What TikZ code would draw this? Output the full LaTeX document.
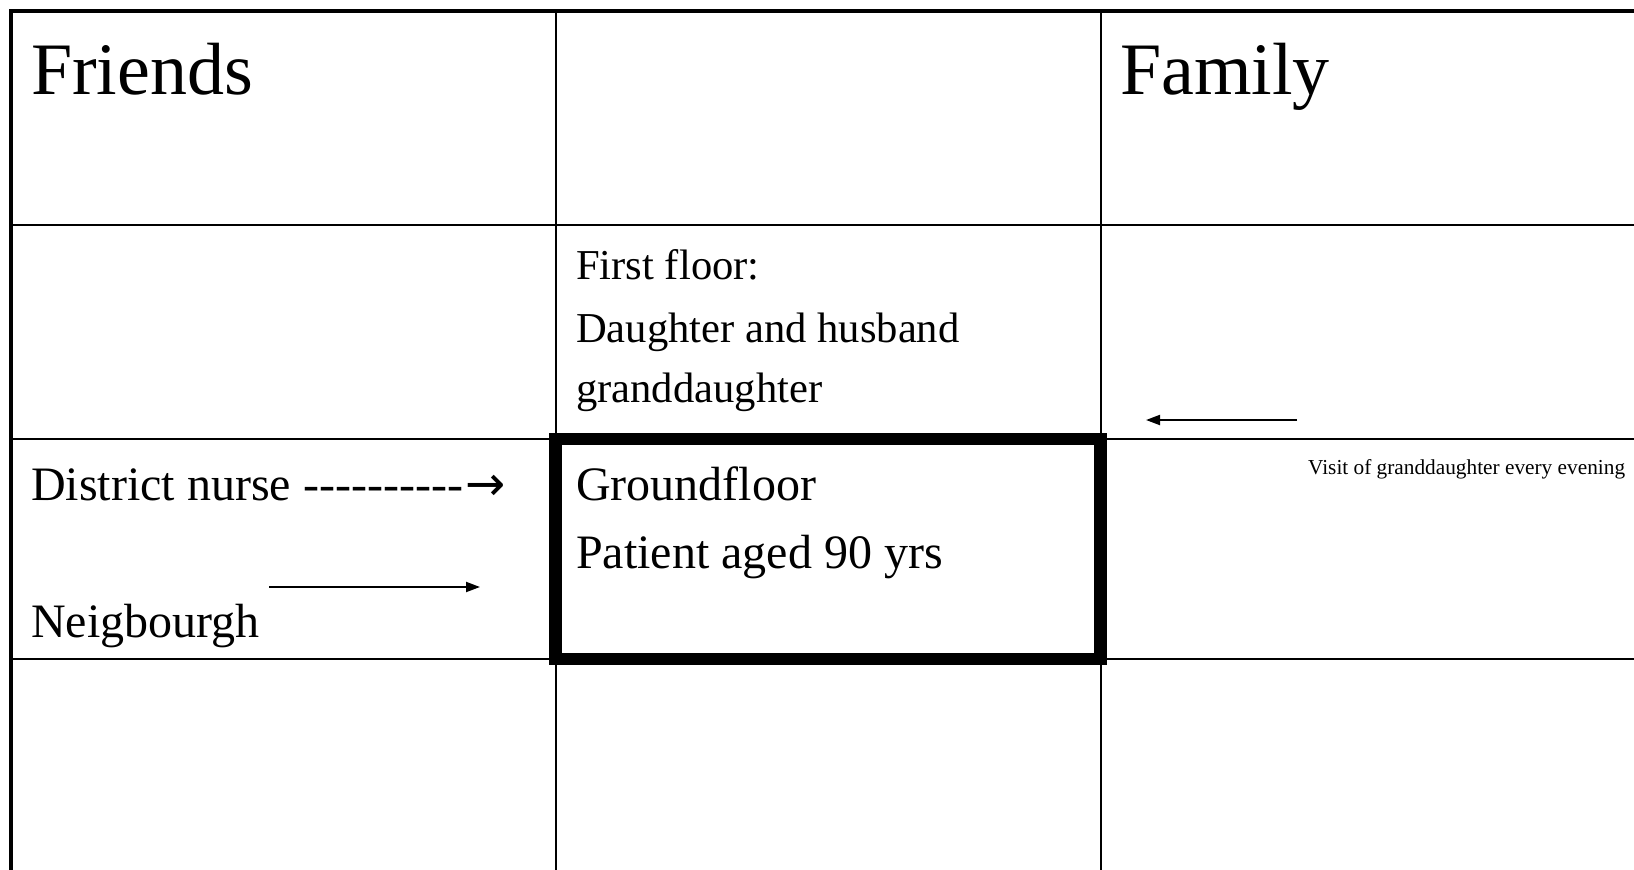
\documentclass[tikz,border=0pt]{standalone}
\usepackage{fontspec}
\setmainfont{Liberation Serif}
\newfontfamily\arrowfont{DejaVu Sans}
\usetikzlibrary{arrows.meta}

\tikzset{
  frameline/.style={line width=4pt},
  gridline/.style={line width=2pt},
  patientbox/.style={line width=12.5pt},
  visitarrow/.style={line width=2pt,-{Triangle[length=14pt,width=10pt]}},
  cellbig/.style={anchor=base west,inner sep=0pt,font=\fontsize{74}{80}\selectfont},
  cellmid/.style={anchor=base west,inner sep=0pt,font=\fontsize{48}{56}\selectfont},
  cellfloor/.style={anchor=base west,inner sep=0pt,font=\fontsize{42.6}{50}\selectfont},
  cellsmall/.style={anchor=base west,inner sep=0pt,font=\fontsize{21.3}{25}\selectfont}
}

\begin{document}
\begin{tikzpicture}[x=1pt,y=-1pt]
\useasboundingbox (0,0) rectangle (1634,870);

\coordinate (colA) at (555.5,10.5);
\coordinate (colB) at (1100.5,10.5);

% grid
  \draw[gridline] (colA) -- (555.5,870);
  \draw[gridline] (colB) -- (1100.5,870);
  \draw[gridline] (10.5,225) -- (1634,225);
  \draw[gridline] (10.5,439) -- (1634,439);
  \draw[gridline] (10.5,659) -- (1634,659);
  \draw[frameline] (10.5,870) -- (10.5,10.5) -- (1634,10.5);

% ground floor
\draw[patientbox] (555.5,439) rectangle (1100.5,659);

  \node[cellbig] (friends) at (31,94) {Friends};
  \node[cellbig] (family) at (1120,94) {Family};

  \node[cellfloor] (first) at (576,279) {First floor:};
  \node[cellfloor] (daughter) at (576,342) {Daughter and husband};
  \node[cellfloor] (grandd) at (576,402) {granddaughter};

  \node[cellmid] (ground) at (576,500) {Groundfloor};
  \node[cellmid] (patient) at (576,568) {Patient aged 90 yrs};

  \node[cellmid] (nurse) at (31,500) {District nurse -\kern0pt-\kern0pt-\kern0pt-\kern0pt-\kern0pt-\kern0pt-\kern0pt-\kern0pt-\kern0pt-\kern3pt{\arrowfont→}};
  \node[cellmid] (neighbour) at (31,637) {Neigbourgh};

  \node[cellsmall] (visit) at (1308,474) {Visit of granddaughter every evening};

% arrows
\coordinate (visitT) at (1297,420);
\coordinate (visitH) at (1146,420);
  \draw[visitarrow] (visitT) -- (visitH);

\coordinate (neighT) at (269,587);
\coordinate (neighH) at (480,587);
  \draw[visitarrow] (neighT) -- (neighH);

\end{tikzpicture}
\end{document}
